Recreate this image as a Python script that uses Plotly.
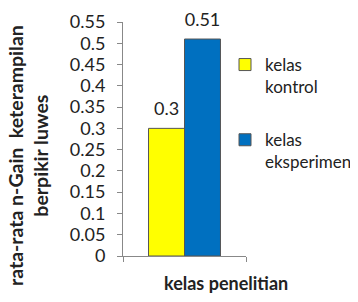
import plotly.graph_objects as go

categories = [" "]
series_names = ["kelas<br>kontrol", "kelas<br>eksperimen"]
values_kontrol = [0.3]
values_eksperimen = [0.51]
colors = ["#FFFF00", "#0070C0"]
tick_vals = [0, 0.05, 0.1, 0.15, 0.2, 0.25, 0.3, 0.35, 0.4, 0.45, 0.5, 0.55]
tick_text = ["0", "0.05", "0.1", "0.15", "0.2", "0.25", "0.3", "0.35", "0.4", "0.45", "0.5", "0.55"]

FONT = "Lato, Open Sans, sans-serif"
# page body has an 8px margin, so the figure is drawn 8px smaller and all
# pixel targets (measured on the 358x302 reference) are shifted by -8
OFF = 8
W, H = 358 - OFF, 302 - OFF
L, T = 123 - OFF, 22 - OFF
R = W - (246 - OFF)
B = H - (256 - OFF)
pw = W - L - R
ph = H - T - B


def px_x(x):
    return (x - OFF - L) / pw


def px_y(y):
    return (H - B - (y - OFF)) / ph


fig = go.Figure()
for i, (name, vals, col) in enumerate(zip(series_names, [values_kontrol, values_eksperimen], colors)):
    fig.add_trace(go.Bar(
        x=categories, y=vals, name=name, legendgroup="g%d" % i,
        marker=dict(color=col, line=dict(color="#555555", width=1)),
        offsetgroup=str(i), alignmentgroup="a",
    ))
for i, vals in enumerate([values_kontrol, values_eksperimen]):
    fig.add_trace(go.Scatter(
        x=categories, y=vals, mode="markers+text", showlegend=False,
        text=[str(v) for v in vals], textposition="top center",
        textfont=dict(size=18, color="#222222", family=FONT),
        marker=dict(size=12, opacity=0, color="white"),
        offsetgroup=str(i), alignmentgroup="a",
        cliponaxis=False, hoverinfo="skip",
    ))

fig.update_layout(
    width=W, height=H,
    margin=dict(l=L, r=R, t=T, b=B, autoexpand=False),
    paper_bgcolor="white", plot_bgcolor="white",
    barmode="group", bargap=0.415, bargroupgap=0,
    scattermode="group", scattergap=0.415,
    font=dict(family=FONT, size=17, color="#222222"),
    showlegend=True,
    legend=dict(x=px_x(225), y=px_y(47), xanchor="left", yanchor="top",
                font=dict(size=17, family=FONT), tracegroupgap=28,
                valign="top", itemwidth=30, bgcolor="rgba(0,0,0,0)"),
    xaxis=dict(showline=True, linecolor="#888888", linewidth=1,
               ticks="outside", ticklen=5, tickcolor="#888888",
               tickson="boundaries", showgrid=False, showticklabels=False,
               automargin=False),
    yaxis=dict(range=[0, 0.55], tickvals=tick_vals, ticktext=tick_text,
               showline=True, linecolor="#888888", linewidth=1,
               ticks="outside", ticklen=5, tickcolor="#888888",
               showgrid=False, zeroline=False, automargin=False,
               ticklabelstandoff=8,
               tickfont=dict(size=18, family=FONT)),
    annotations=[
        dict(text="<b>rata-rata n-Gain  keterampilan<br>berpikir luwes</b>",
             x=px_x(28), y=px_y(156), xref="paper", yref="paper", showarrow=False,
             xanchor="center", yanchor="middle",
             textangle=-90, font=dict(size=19.5, family=FONT)),
        dict(text="<b>kelas penelitian</b>", x=px_x(226), y=px_y(283),
             xref="paper", yref="paper", showarrow=False,
             xanchor="center", yanchor="middle",
             font=dict(size=18, family=FONT)),
    ],
)

fig.write_html("out.html")
